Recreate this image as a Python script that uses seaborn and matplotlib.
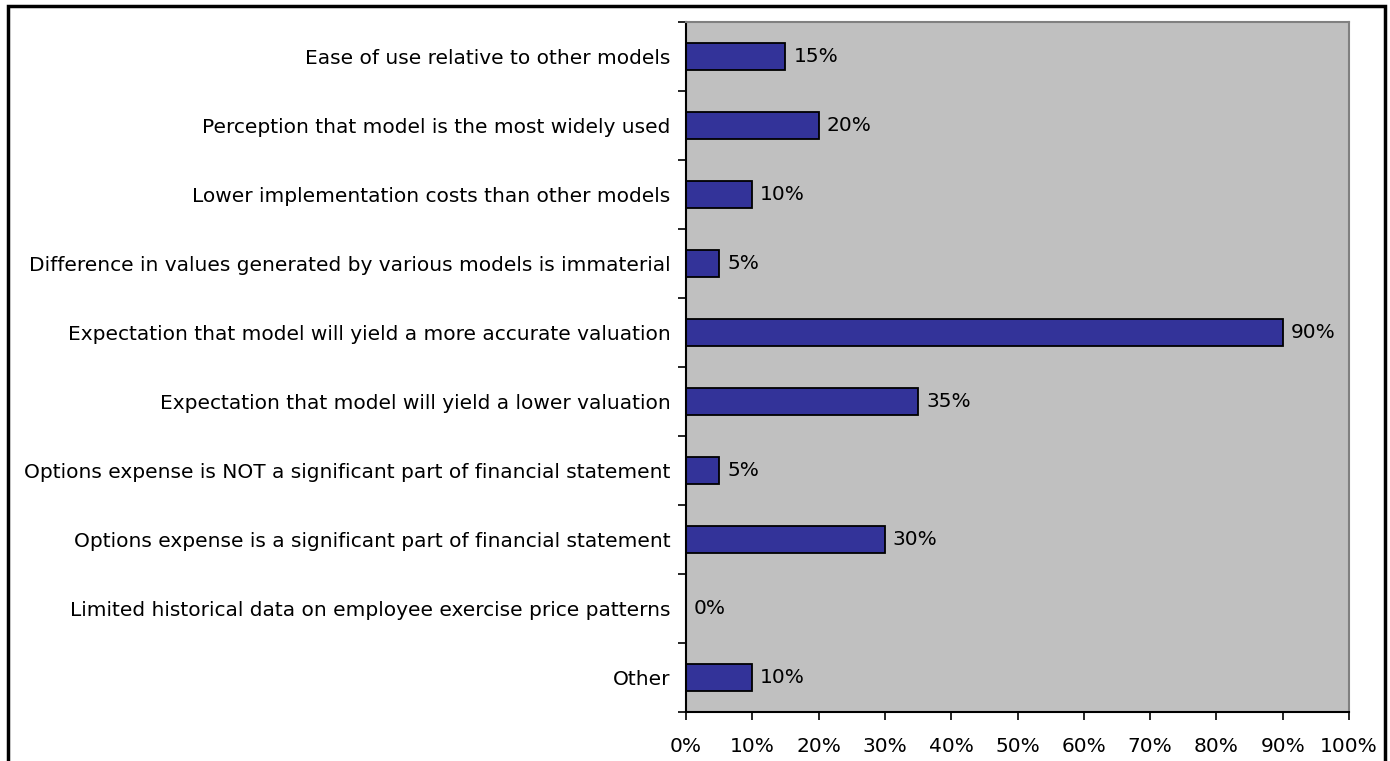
import matplotlib
matplotlib.use("Agg")
import matplotlib.pyplot as plt
from matplotlib.patches import Rectangle
from matplotlib.ticker import FixedLocator, PercentFormatter
import seaborn as sns
import pandas as pd

categories = [
    "Ease of use relative to other models",
    "Perception that model is the most widely used",
    "Lower implementation costs than other models",
    "Difference in values generated by various models is immaterial",
    "Expectation that model will yield a more accurate valuation",
    "Expectation that model will yield a lower valuation",
    "Options expense is NOT a significant part of financial statement",
    "Options expense is a significant part of financial statement",
    "Limited historical data on employee exercise price patterns",
    "Other",
]
values = [15, 20, 10, 5, 90, 35, 5, 30, 0, 10]
x_ticks = [0, 10, 20, 30, 40, 50, 60, 70, 80, 90, 100]

df = pd.DataFrame({"reason": categories, "pct": values})

sns.set_theme(style="white")
plt.rcParams["font.family"] = ["DejaVu Sans"]
plt.rcParams["text.color"] = "black"
plt.rcParams["xtick.color"] = "black"
plt.rcParams["ytick.color"] = "black"

FS = 14.5

fig = plt.figure(figsize=(13.9, 7.61), dpi=100)
ax = fig.add_axes([686 / 1390, 1 - 712 / 761, (1349 - 686) / 1390, (712 - 22) / 761])

sns.barplot(data=df, x="pct", y="reason", orient="h", color="#333399",
            saturation=1, width=0.4, edgecolor="black", linewidth=1.3, ax=ax)

ax.set_facecolor("#C0C0C0")
ax.set_xlim(0, 100)
ax.set_ylim(len(categories) - 0.5, -0.5)
ax.set_xlabel("")
ax.set_ylabel("")

ax.xaxis.set_major_locator(FixedLocator(x_ticks))
ax.xaxis.set_major_formatter(PercentFormatter(decimals=0))
ax.tick_params(axis="x", which="major", direction="out", length=6, width=1.2,
               color="black", labelcolor="black", labelsize=FS, pad=12, bottom=True)

# category labels centred on bars, tick marks on category boundaries
ax.tick_params(axis="y", which="major", length=0, labelsize=FS, labelcolor="black", pad=11)
ax.yaxis.set_minor_locator(FixedLocator([i - 0.5 for i in range(len(categories) + 1)]))
ax.tick_params(axis="y", which="minor", direction="out", length=6, width=1.2,
               color="black", left=True)

for side in ("left", "bottom"):
    ax.spines[side].set_color("black")
    ax.spines[side].set_linewidth(1.5)
for side in ("top", "right"):
    ax.spines[side].set_color("#808080")
    ax.spines[side].set_linewidth(1.5)
    ax.spines[side].set_visible(True)

for i, v in enumerate(values):
    ax.text(v + 1.2, i, f"{v}%", va="center", ha="left", fontsize=FS, color="black")

# outer chart frame
fig.patches.append(Rectangle((8 / 1390, -0.05), (1385 - 8) / 1390, 1.05 - 6 / 761,
                             transform=fig.transFigure, fill=False,
                             edgecolor="black", linewidth=2.5))

fig.savefig("out.png", dpi=100, facecolor="white")
